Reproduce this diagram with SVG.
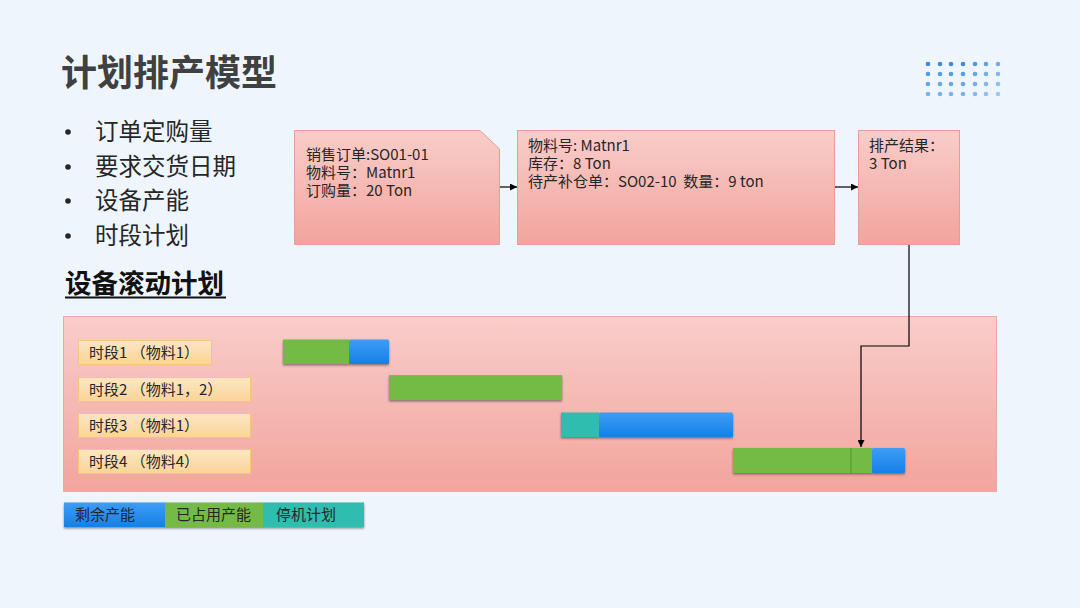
<svg xmlns="http://www.w3.org/2000/svg" width="1080" height="608" viewBox="0 0 1080 608">
<defs>
<linearGradient id="pink" x1="0" y1="0" x2="0" y2="1"><stop offset="0" stop-color="#f9cdca"/><stop offset="1" stop-color="#f2a49d"/></linearGradient>
<linearGradient id="orange" x1="0" y1="0" x2="0" y2="1"><stop offset="0" stop-color="#fde6c6"/><stop offset="1" stop-color="#fbd497"/></linearGradient>
<linearGradient id="blue" x1="0" y1="0" x2="0" y2="1"><stop offset="0" stop-color="#3d9df6"/><stop offset="1" stop-color="#1580e6"/></linearGradient>
<filter id="sh" x="-5%" y="-20%" width="110%" height="150%"><feDropShadow dx="0" dy="1.5" stdDeviation="0.8" flood-color="#333" flood-opacity="0.55"/></filter>
<marker id="arr" viewBox="0 0 10 10" refX="10" refY="5" markerWidth="7" markerHeight="7" markerUnits="userSpaceOnUse" orient="auto"><path d="M0,0 L10,5 L0,10 z" fill="#000"/></marker>
<style>
.cjk{font-family:"Noto Sans CJK SC","Noto Sans",sans-serif;fill:#262626}
.box{fill:url(#pink);stroke:#e69d97;stroke-width:1}
.lbl{fill:url(#orange);stroke:#f6c57c;stroke-width:1}
.t14{font-size:15px}
.conn{fill:none;stroke:#000;stroke-width:1.2}
.dot{fill:#2f86e6}
</style>
</defs>
<rect width="1080" height="608" fill="#eef5fc"/>

<g id="dots">
<g class="dot" opacity="0.95">
<circle cx="928" cy="64" r="2.3"/><circle cx="940" cy="64" r="2.3"/><circle cx="951" cy="64" r="2.3"/><circle cx="963" cy="64" r="2.3"/><circle cx="975" cy="64" r="2.3" opacity="0.9"/><circle cx="986" cy="64" r="2.3" opacity="0.8"/><circle cx="998" cy="64" r="2.3" opacity="0.7"/>
</g>
<g class="dot" opacity="0.8">
<circle cx="928" cy="74" r="2.3"/><circle cx="940" cy="74" r="2.3"/><circle cx="951" cy="74" r="2.3"/><circle cx="963" cy="74" r="2.3"/><circle cx="975" cy="74" r="2.3" opacity="0.9"/><circle cx="986" cy="74" r="2.3" opacity="0.8"/><circle cx="998" cy="74" r="2.3" opacity="0.7"/>
</g>
<g class="dot" opacity="0.7">
<circle cx="928" cy="84" r="2.3"/><circle cx="940" cy="84" r="2.3"/><circle cx="951" cy="84" r="2.3"/><circle cx="963" cy="84" r="2.3"/><circle cx="975" cy="84" r="2.3" opacity="0.9"/><circle cx="986" cy="84" r="2.3" opacity="0.8"/><circle cx="998" cy="84" r="2.3" opacity="0.7"/>
</g>
<g class="dot" opacity="0.6">
<circle cx="928" cy="94" r="2.3"/><circle cx="940" cy="94" r="2.3"/><circle cx="951" cy="94" r="2.3"/><circle cx="963" cy="94" r="2.3"/><circle cx="975" cy="94" r="2.3" opacity="0.9"/><circle cx="986" cy="94" r="2.3" opacity="0.8"/><circle cx="998" cy="94" r="2.3" opacity="0.7"/>
</g>
</g>

<g id="title">
<text x="61" y="86" class="cjk" font-size="36" font-weight="bold" style="fill:#404040">计划排产模型</text>
</g>

<g id="bullets" class="cjk" font-size="23.5">
<circle cx="68" cy="132" r="2.8" fill="#262626"/><text x="95" y="140">订单定购量</text>
<circle cx="68" cy="167" r="2.8" fill="#262626"/><text x="95" y="175">要求交货日期</text>
<circle cx="68" cy="201" r="2.8" fill="#262626"/><text x="95" y="209">设备产能</text>
<circle cx="68" cy="236" r="2.8" fill="#262626"/><text x="95" y="244">时段计划</text>
</g>

<g id="subtitle">
<text x="65" y="293" class="cjk" font-size="26.5" font-weight="bold" style="fill:#111">设备滚动计划</text>
<line x1="65" y1="297.5" x2="226" y2="297.5" stroke="#111" stroke-width="1.8"/>
</g>

<g id="node-order">
<path class="box" d="M294.5,130.5 H480 L499.5,149 V244.5 H294.5 Z"/>
<text class="cjk t14" x="306" y="160">销售订单:SO01-01</text>
<text class="cjk t14" x="306" y="178">物料号：Matnr1</text>
<text class="cjk t14" x="306" y="196">订购量：20 Ton</text>
</g>

<g id="node-stock">
<rect class="box" x="517.5" y="130.5" width="317" height="114"/>
<text class="cjk t14" x="528" y="151">物料号: Matnr1</text>
<text class="cjk t14" x="528" y="169">库存：8 Ton</text>
<text class="cjk t14" x="528" y="187" xml:space="preserve" style="white-space:pre">待产补仓单：SO02-10  数量：9 ton</text>
</g>

<g id="node-result">
<rect class="box" x="858.5" y="130.5" width="101" height="114"/>
<text class="cjk t14" x="869" y="151">排产结果：</text>
<text class="cjk t14" x="869" y="169">3 Ton</text>
</g>

<g id="panel">
<rect x="63.5" y="316.5" width="933" height="175" fill="url(#pink)" stroke="#e8aaa5" stroke-width="1"/>
</g>

<g id="labels">
<g id="label1"><rect class="lbl" x="78.5" y="340.5" width="133" height="24"/><text class="cjk t14" x="89" y="358">时段1 （物料1）</text></g>
<g id="label2"><rect class="lbl" x="78.5" y="377.5" width="172" height="24"/><text class="cjk t14" x="89" y="395">时段2 （物料1，2）</text></g>
<g id="label3"><rect class="lbl" x="78.5" y="413.5" width="172" height="24"/><text class="cjk t14" x="89" y="431">时段3 （物料1）</text></g>
<g id="label4"><rect class="lbl" x="78.5" y="449.5" width="172" height="24"/><text class="cjk t14" x="89" y="467">时段4 （物料4）</text></g>
</g>

<g id="bars" filter="url(#sh)">
<g id="bar1"><rect x="349" y="339.5" width="40" height="24.5" rx="1.5" fill="url(#blue)"/><rect x="283" y="339.5" width="66" height="24.5" fill="#73bb44"/></g>
<g id="bar2"><rect x="389" y="375" width="173" height="25" fill="#73bb44"/><line x1="389" y1="375.5" x2="562" y2="375.5" stroke="#6aa6e8" stroke-width="1"/></g>
<g id="bar3"><rect x="599" y="412.5" width="134" height="24.5" rx="1.5" fill="url(#blue)"/><rect x="561" y="412.5" width="38" height="24.5" fill="#2ebdaf"/></g>
<g id="bar4"><rect x="872" y="448" width="33" height="25" rx="1.5" fill="url(#blue)"/><rect x="733" y="448" width="139" height="25" fill="#73bb44"/><line x1="851" y1="448" x2="851" y2="473" stroke="#4f9a2c" stroke-width="1"/></g>
</g>

<g id="connectors">
<line class="conn" x1="500" y1="187" x2="517" y2="187" marker-end="url(#arr)"/>
<line class="conn" x1="835" y1="187" x2="858" y2="187" marker-end="url(#arr)"/>
<polyline class="conn" points="909,245 909,346 861,346 861,447" marker-end="url(#arr)"/>
</g>

<g id="legend" filter="url(#sh)">
<rect x="64" y="502.5" width="101" height="24.5" fill="url(#blue)"/>
<rect x="165" y="502.5" width="98" height="24.5" fill="#73bb44"/>
<rect x="263" y="502.5" width="101" height="24.5" fill="#2ebdaf"/>
</g>
<g id="legend-text" class="cjk t14">
<text x="75" y="520">剩余产能</text>
<text x="176" y="520">已占用产能</text>
<text x="276" y="520">停机计划</text>
</g>
</svg>
